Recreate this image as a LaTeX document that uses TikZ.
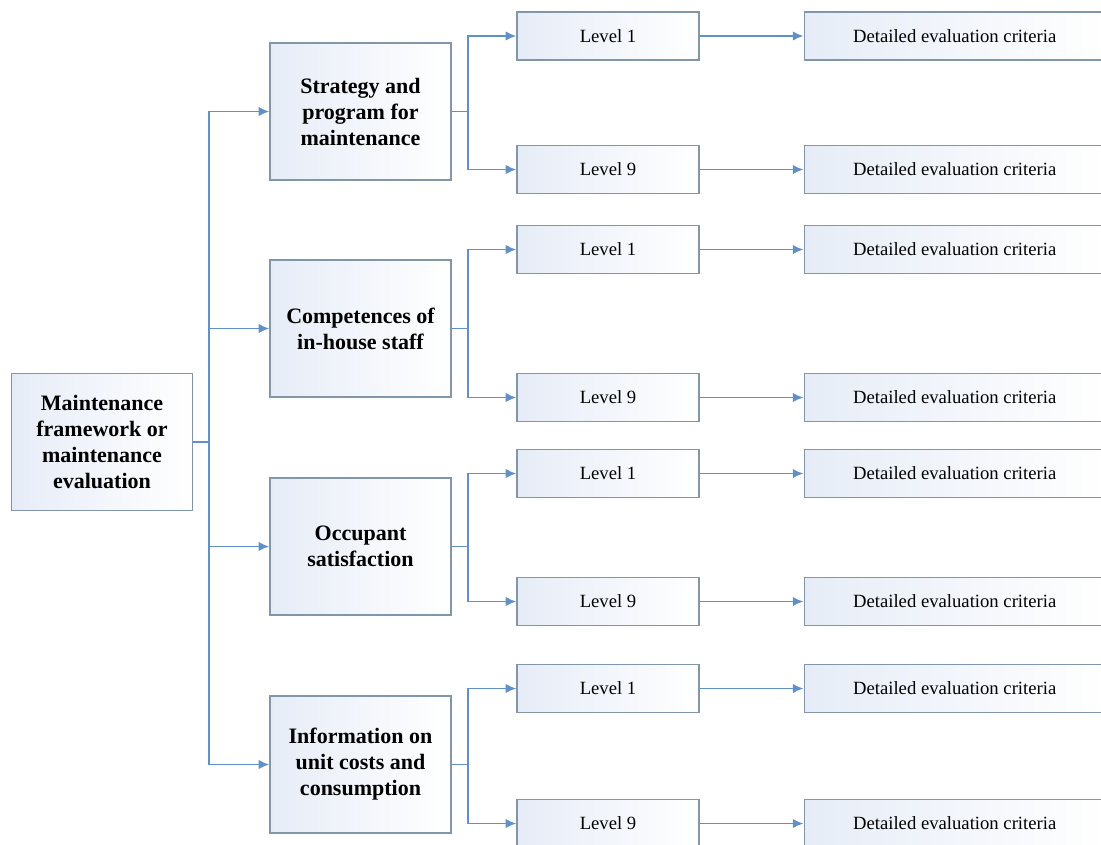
\documentclass[tikz,border=0pt]{standalone}
\usepackage{fontspec}
\setmainfont{Liberation Serif}
\usepackage{tikz}
\usetikzlibrary{positioning, arrows.meta}
\definecolor{linkblue}{RGB}{95,145,200}
\definecolor{boxline}{RGB}{130,150,170}
\definecolor{fillblue}{RGB}{230,236,247}
\tikzset{main box/.style={draw=boxline,line width=0.9pt,left color=fillblue,right color=white,minimum width=135.75pt,minimum height=102.75pt,inner sep=2pt,align=center,font=\fontsize{16.5}{19.5}\selectfont\bfseries},
         level box/.style={draw=boxline,line width=0.9pt,left color=fillblue,right color=white,minimum width=136.5pt,minimum height=36pt,inner sep=2pt,font=\fontsize{14}{16}\selectfont},
         detail box/.style={level box,minimum width=225.75pt},
         link/.style={draw=linkblue,line width=1.4pt},
         arrow/.style={link,-{Latex[length=8pt,width=7pt]}}}

\begin{document}
\begin{tikzpicture}[x=0.75pt,y=-0.75pt]
            \useasboundingbox (0,0) rectangle (1101,844);
            \clip (0,0) rectangle (1101,844);

            \node[main box] (M) at (102,442) {Maintenance\\framework or\\maintenance\\evaluation};

            \node[main box] (S1) at (360.5,111.5) {Strategy and\\program for\\maintenance};
            \node[main box] (S2) at (360.5,328.5) {Competences of\\in-house staff};
            \node[main box] (S3) at (360.5,546.5) {Occupant\\satisfaction};
            \node[main box] (S4) at (360.5,764.5) {Information on\\unit costs and\\consumption};

            \node[level box] (L11) at (608,36) {Level 1};
            \node[level box] (L19) at (608,169.5) {Level 9};
            \node[level box] (L21) at (608,249.5) {Level 1};
            \node[level box] (L29) at (608,397.5) {Level 9};
            \node[level box] (L31) at (608,473.5) {Level 1};
            \node[level box] (L39) at (608,601.5) {Level 9};
            \node[level box] (L41) at (608,688.5) {Level 1};
            \node[level box] (L49) at (608,823.5) {Level 9};

            \node[detail box] (D11) [right = 78pt of L11] {Detailed evaluation criteria};
            \node[detail box] (D19) [right = 78pt of L19] {Detailed evaluation criteria};
            \node[detail box] (D21) [right = 78pt of L21] {Detailed evaluation criteria};
            \node[detail box] (D29) [right = 78pt of L29] {Detailed evaluation criteria};
            \node[detail box] (D31) [right = 78pt of L31] {Detailed evaluation criteria};
            \node[detail box] (D39) [right = 78pt of L39] {Detailed evaluation criteria};
            \node[detail box] (D41) [right = 78pt of L41] {Detailed evaluation criteria};
            \node[detail box] (D49) [right = 78pt of L49] {Detailed evaluation criteria};

            \coordinate (J) at (209,442);
            \path[link] (M.east) -- (J);
            \path[arrow] (J) |- (S1.west);
            \path[arrow] (J) |- (S2.west);
            \path[arrow] (J) |- (S3.west);
            \path[arrow] (J) |- (S4.west);

            \path[arrow] (S1.east) -- ++(16,0) |- (L11.west);
            \path[arrow] (S1.east) -- ++(16,0) |- (L19.west);
            \path[arrow] (S2.east) -- ++(16,0) |- (L21.west);
            \path[arrow] (S2.east) -- ++(16,0) |- (L29.west);
            \path[arrow] (S3.east) -- ++(16,0) |- (L31.west);
            \path[arrow] (S3.east) -- ++(16,0) |- (L39.west);
            \path[arrow] (S4.east) -- ++(16,0) |- (L41.west);
            \path[arrow] (S4.east) -- ++(16,0) |- (L49.west);

            \path[arrow] (L11) -- (D11);
            \path[arrow] (L19) -- (D19);
            \path[arrow] (L21) -- (D21);
            \path[arrow] (L29) -- (D29);
            \path[arrow] (L31) -- (D31);
            \path[arrow] (L39) -- (D39);
            \path[arrow] (L41) -- (D41);
            \path[arrow] (L49) -- (D49);
        \end{tikzpicture}
\end{document}
